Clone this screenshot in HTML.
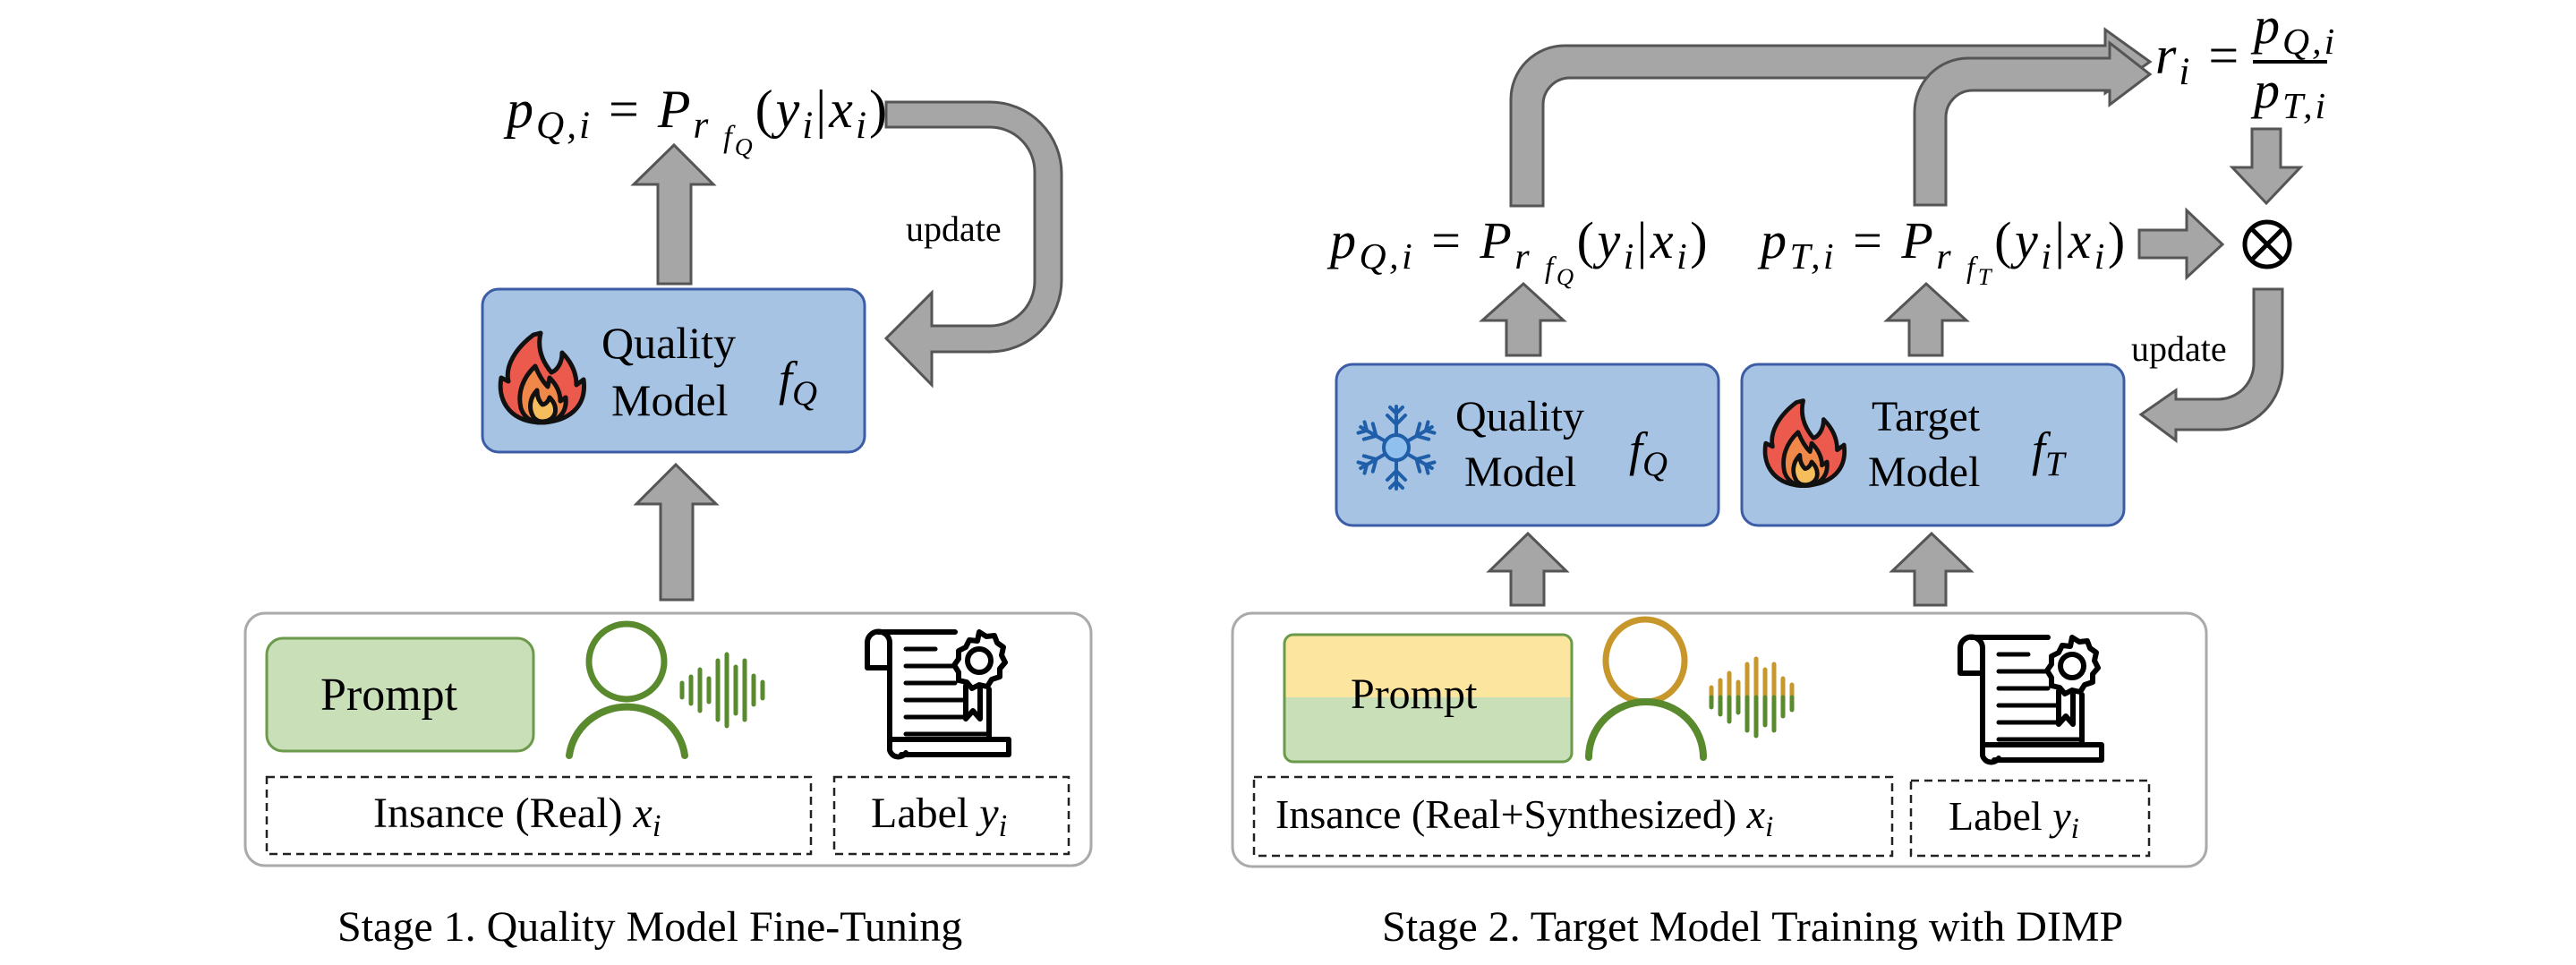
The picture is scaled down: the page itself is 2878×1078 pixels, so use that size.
<!DOCTYPE html>
<html><head><meta charset="utf-8">
<style>
html,body{margin:0;padding:0;background:#fff;}
#c{position:relative;width:2878px;height:1078px;overflow:hidden;background:#fff;font-family:"Liberation Serif",serif;color:#000;}
.t{position:absolute;white-space:nowrap;line-height:1;}
.m{font-style:italic;}
.f{letter-spacing:3px;}
.s{font-size:0.72em;position:relative;top:0.28em;}
.ss{font-size:0.8em;position:relative;top:0.3em;}
.n{font-style:normal;}
</style></head><body><div id="c">
<svg width="2878" height="1078" style="position:absolute;left:0;top:0">
<defs>
<g id="flame">
 <path d="M40,10 C20,25 8,45 12,62 L4,58 C0,80 10,105 45,108 C80,108 100,90 96,60 L88,66 C88,50 80,38 72,30 C72,42 66,50 60,52 C50,40 44,25 48,8 Z" fill="#ec5a4e" stroke="#111" stroke-width="5" stroke-linejoin="round"/>
 <path d="M42,45 C28,58 22,75 26,92 C30,104 40,108 50,108 C66,108 78,98 76,80 L70,84 C70,72 64,64 58,58 L56,68 C50,62 46,55 42,45 Z" fill="#f0884a" stroke="#111" stroke-width="5" stroke-linejoin="round"/>
 <path d="M44,72 C36,80 34,92 40,102 C46,110 60,108 64,98 C66,90 62,84 58,80 C56,86 52,88 50,88 C46,84 44,78 44,72 Z" fill="#f5bd5c" stroke="#111" stroke-width="5" stroke-linejoin="round"/>
</g>
<g id="cert" fill="none" stroke="#000" stroke-width="6" stroke-linejoin="round" stroke-linecap="round">
 <path d="M27,48 L2,48 L2,20 A12,12 0 0 1 27,20 L27,140 A10,10 0 0 0 45,143"/>
 <path d="M14,8 L100,8"/>
 <path d="M30,128 L160,128 L160,145 L40,145"/>
 <path d="M45,27 L78,27 M45,46 L112,46 M45,65 L100,65 M45,84 L112,84 M45,103 L112,103 M45,122 L135,122" stroke-width="5"/>
 <path d="M112,68 L112,105 L120,96 L128,105 L128,70"/>
 <path d="M138,72 L138,126"/>
 <path d="M127,8 l8,5 9,-1 3,8 7,5 -2,9 4,8 -6,7 0,9 -9,3 -5,8 -9,-2 -8,4 -6,-7 -9,-2 0,-9 -5,-8 5,-7 0,-9 8,-4 4,-8 9,1 Z" fill="#fff"/>
 <circle cx="127" cy="40" r="13"/>
</g>
</defs>
<g fill="#a6a6a6" stroke="#555" stroke-width="3" stroke-linejoin="miter">
 <polygon points="735,317 772,317 772,206 797,206 753,162 708,206 735,206"/>
 <polygon points="738,670 774,670 774,563 800,563 755,519 711,563 738,563"/>
 <path d="M990,114 L1106,114 A80,80 0 0 1 1186,194 L1186,313 A80,80 0 0 1 1106,393 L1041,393 L1041,430 L990,378 L1041,327 L1041,364 L1106,364 A50,50 0 0 0 1156,314 L1156,192 A50,50 0 0 0 1106,142 L990,142 Z"/>
 <polygon points="1688,676 1725,676 1725,638 1750,638 1707,596 1664,638 1688,638"/>
 <polygon points="2139,676 2174,676 2174,638 2202,638 2158,596 2114,638 2139,638"/>
 <polygon points="1683,397 1721,397 1721,358 1747,358 1702,317 1656,358 1683,358"/>
 <polygon points="2133,397 2170,397 2170,358 2197,358 2152,317 2108,358 2133,358"/>
 <path d="M1688,230 L1688,111 A60,60 0 0 1 1748,51 L2352,51 L2352,33 L2402,69 L2352,104 L2352,87 L1754,87 A30,30 0 0 0 1724,117 L1724,230 Z"/>
 <path d="M2139,229 L2139,125 A60,60 0 0 1 2199,65 L2357,65 L2357,48 L2402,83 L2357,117 L2357,101 L2204,101 A30,30 0 0 0 2174,131 L2174,229 Z"/>
 <polygon points="2390,257 2443,257 2443,235 2483,273 2443,310 2443,288 2390,288"/>
 <polygon points="2516,144 2548,144 2548,187 2570,187 2532,227 2494,187 2516,187"/>
 <path d="M2518,323 L2550,323 L2550,410 A70,70 0 0 1 2480,480 L2431,480 L2431,492 L2392,463 L2431,436 L2431,446 L2478,446 A40,40 0 0 0 2518,406 Z"/>
</g>
<circle cx="2533" cy="273" r="25" fill="none" stroke="#000" stroke-width="5"/>
<path d="M2515,255 L2551,291 M2551,255 L2515,291" stroke="#000" stroke-width="5"/>
<rect x="539" y="323" width="427" height="182" rx="18" fill="#a6c3e3" stroke="#3c5ca6" stroke-width="3"/>
<rect x="1493" y="407" width="427" height="180" rx="18" fill="#a6c3e3" stroke="#3c5ca6" stroke-width="3"/>
<rect x="1946" y="407" width="427" height="180" rx="18" fill="#a6c3e3" stroke="#3c5ca6" stroke-width="3"/>
<use href="#flame" transform="translate(556,364)"/>
<use href="#flame" transform="translate(1969,440) scale(0.95)"/>
<g transform="translate(1560,500)" stroke="#1f5ea8" stroke-width="4" fill="#8fc0ee" stroke-linecap="round">
 <circle r="14"/>
 <g id="arm"><path d="M0,-14 L0,-46 M0,-26 L-10,-36 M0,-26 L10,-36 M0,-38 L-7,-45 M0,-38 L7,-45" fill="none"/></g>
 <use href="#arm" transform="rotate(60)"/><use href="#arm" transform="rotate(120)"/><use href="#arm" transform="rotate(180)"/><use href="#arm" transform="rotate(240)"/><use href="#arm" transform="rotate(300)"/>
</g>
<rect x="274" y="685" width="945" height="282" rx="22" fill="#fff" stroke="#aaa" stroke-width="3"/>
<rect x="1377" y="685" width="1088" height="283" rx="22" fill="#fff" stroke="#aaa" stroke-width="3"/>
<rect x="298" y="713" width="298" height="126" rx="18" fill="#c9dfb8" stroke="#6a9a4a" stroke-width="3"/>
<defs><clipPath id="pc"><rect x="1435" y="709" width="321" height="142" rx="10"/></clipPath></defs>
<g clip-path="url(#pc)"><rect x="1435" y="709" width="321" height="70" fill="#fbe59f"/><rect x="1435" y="779" width="321" height="72" fill="#c9dfb8"/></g>
<rect x="1435" y="709" width="321" height="142" rx="10" fill="none" stroke="#6a9a4a" stroke-width="3"/>
<circle cx="700" cy="739" r="42" fill="none" stroke="#5a8a2e" stroke-width="7"/>
<path d="M636,844 A65,62 0 0 1 765,844" fill="none" stroke="#5a8a2e" stroke-width="8" stroke-linecap="round"/>
<g stroke="#5a8a2e" stroke-width="5" stroke-linecap="round">
 <path d="M762,763 v16 M772,756 v30 M782,748 v46 M792,758 v26 M802,738 v66 M812,731 v80 M822,745 v52 M832,738 v66 M842,755 v32 M852,762 v18"/>
</g>
<ellipse cx="1838" cy="738" rx="44" ry="46" fill="none" stroke="#c8972c" stroke-width="7"/>
<path d="M1775,846 A64,62 0 0 1 1903,846" fill="none" stroke="#5a8a2e" stroke-width="8" stroke-linecap="round"/>
<g stroke-width="5" stroke-linecap="round">
 <path d="M1912,768 v11 M1922,760 v19 M1932,752 v27 M1942,762 v17 M1952,742 v37 M1962,736 v43 M1972,748 v31 M1982,742 v37 M1992,758 v21 M2002,765 v14" stroke="#c8972c"/>
 <path d="M1912,779 v11 M1922,779 v19 M1932,779 v27 M1942,779 v17 M1952,779 v37 M1962,779 v43 M1972,779 v31 M1982,779 v37 M1992,779 v21 M2002,779 v14" stroke="#5a8a2e"/>
</g>
<use href="#cert" transform="translate(967,698)"/>
<use href="#cert" transform="translate(2188,704)"/>
<g fill="none" stroke="#222" stroke-width="2.5" stroke-dasharray="9,6">
 <rect x="298" y="868" width="608" height="86"/>
 <rect x="932" y="868" width="262" height="86"/>
 <rect x="1401" y="868" width="713" height="88"/>
 <rect x="2135" y="872" width="266" height="84"/>
</g>
<line x1="2517" y1="69" x2="2600" y2="69" stroke="#000" stroke-width="4"/>
</svg>

<div class="t m f" style="left:566px;top:92px;font-size:60px">p<span class="s">Q,i</span> <span class="n">=</span> P<span class="s">r <span class="ss">f<span class="ss">Q</span></span></span><span class="n">(</span>y<span class="s">i</span><span class="n">|</span>x<span class="s">i</span><span class="n">)</span></div>
<div class="t" style="left:1012px;top:236px;font-size:40px">update</div>
<div class="t" style="left:672px;top:358px;font-size:50px">Quality</div>
<div class="t" style="left:683px;top:422px;font-size:50px">Model</div>
<div class="t m" style="left:870px;top:396px;font-size:54px">f<span class="s">Q</span></div>
<div class="t" style="left:358px;top:751px;font-size:52px">Prompt</div>
<div class="t" style="left:417px;top:885px;font-size:48px">Insance (Real) <span class="m">x<span class="s">i</span></span></div>
<div class="t" style="left:973px;top:885px;font-size:48px">Label <span class="m">y<span class="s">i</span></span></div>
<div class="t" style="left:377px;top:1012px;font-size:48px">Stage 1. Quality Model Fine-Tuning</div>

<div class="t m f" style="left:1486px;top:240px;font-size:58px;letter-spacing:3.5px">p<span class="s">Q,i</span> <span class="n">=</span> P<span class="s">r <span class="ss">f<span class="ss">Q</span></span></span><span class="n">(</span>y<span class="s">i</span><span class="n">|</span>x<span class="s">i</span><span class="n">)</span></div>
<div class="t m f" style="left:1967px;top:240px;font-size:58px;letter-spacing:3.5px">p<span class="s">T,i</span> <span class="n">=</span> P<span class="s">r <span class="ss">f<span class="ss">T</span></span></span><span class="n">(</span>y<span class="s">i</span><span class="n">|</span>x<span class="s">i</span><span class="n">)</span></div>
<div class="t m f" style="left:2408px;top:32px;font-size:60px">r<span class="s">i</span> <span class="n">=</span></div>
<div class="t m f" style="left:2518px;top:0px;font-size:58px">p<span class="s">Q,i</span></div>
<div class="t m f" style="left:2518px;top:72px;font-size:58px">p<span class="s">T,i</span></div>
<div class="t" style="left:2381px;top:370px;font-size:40px">update</div>
<div class="t" style="left:1626px;top:442px;font-size:48px">Quality</div>
<div class="t" style="left:1636px;top:504px;font-size:48px">Model</div>
<div class="t m" style="left:1820px;top:475px;font-size:54px">f<span class="s">Q</span></div>
<div class="t" style="left:2091px;top:442px;font-size:48px">Target</div>
<div class="t" style="left:2087px;top:504px;font-size:48px">Model</div>
<div class="t m" style="left:2270px;top:475px;font-size:54px">f<span class="s">T</span></div>
<div class="t" style="left:1509px;top:752px;font-size:48px">Prompt</div>
<div class="t" style="left:1425px;top:887px;font-size:46px">Insance (Real+Synthesized) <span class="m">x<span class="s">i</span></span></div>
<div class="t" style="left:2177px;top:889px;font-size:46px">Label <span class="m">y<span class="s">i</span></span></div>
<div class="t" style="left:1544px;top:1012px;font-size:48px">Stage 2. Target Model Training with DIMP</div>
</div></body></html>
